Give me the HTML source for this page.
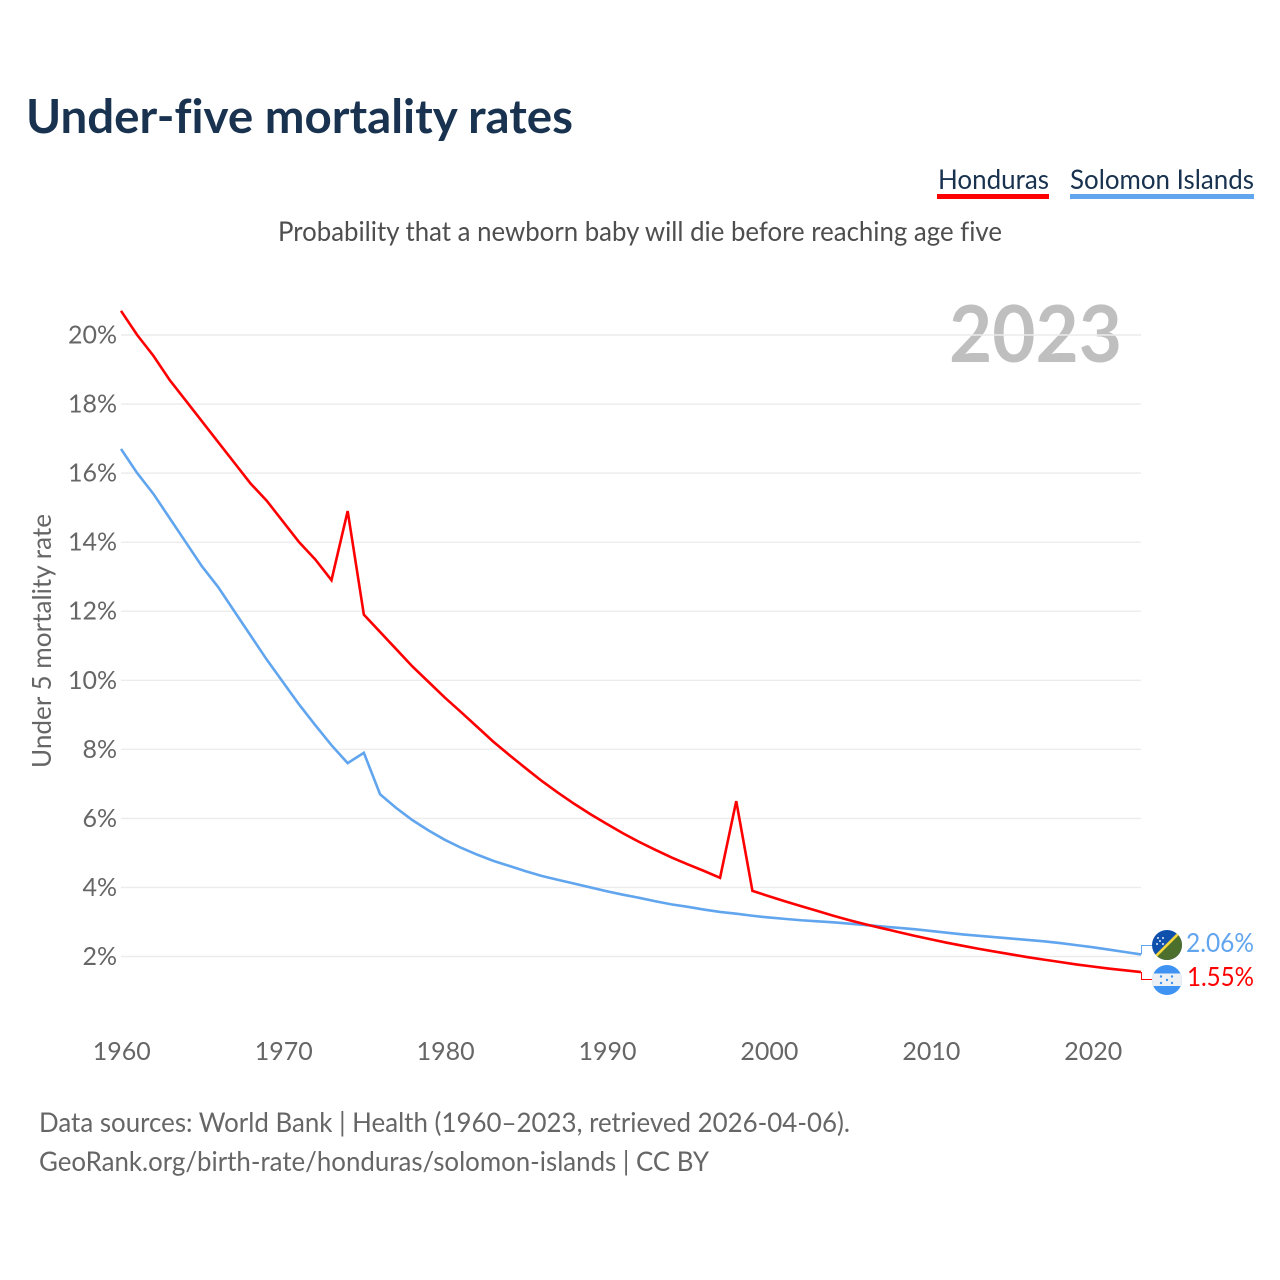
<!DOCTYPE html>
<html><head><meta charset="utf-8"><title>Under-five mortality rates</title>
<style>
html,body{margin:0;padding:0;background:#fff;width:1280px;height:1280px;overflow:hidden}
svg{display:block}
text{font-family:Lato,Carlito,"Liberation Sans",sans-serif;font-variant-ligatures:none}
</style></head>
<body>
<svg id="chart" xmlns="http://www.w3.org/2000/svg" width="1280" height="1280" viewBox="0 0 1280 1280">
<text x="26" y="133" font-size="47" font-weight="700" fill="#18324f" textLength="547" lengthAdjust="spacingAndGlyphs">Under-five mortality rates</text>
<g>
<text x="938" y="189" font-size="27" fill="#18324f" textLength="111" lengthAdjust="spacingAndGlyphs">Honduras</text>
<rect x="937" y="194" width="112" height="5" fill="#ff0000"/>
</g>
<g>
<text x="1070" y="189" font-size="27" fill="#18324f" textLength="184" lengthAdjust="spacingAndGlyphs">Solomon Islands</text>
<rect x="1070" y="194" width="184" height="5" fill="#60a5ee"/>
</g>
<text x="278" y="241" font-size="27.5" fill="#4e4e4e" textLength="724" lengthAdjust="spacingAndGlyphs">Probability that a newborn baby will die before reaching age five</text>
<text x="1122" y="362" font-size="79" font-weight="700" fill="#bfbfbf" text-anchor="end" textLength="173" lengthAdjust="spacingAndGlyphs">2023</text>
<text transform="translate(51,768) rotate(-90)" font-size="26" fill="#666" textLength="254" lengthAdjust="spacingAndGlyphs">Under 5 mortality rate</text>
<g id="grid"></g>
<g id="yticks"></g>
<g id="xticks"></g>
<g id="series"></g>
<g id="connectors"></g>
<defs>
<clipPath id="flag-clip-sb"><circle cx="1167" cy="945" r="15"/></clipPath>
<clipPath id="flag-clip-hn"><circle cx="1167" cy="980" r="15"/></clipPath>
</defs>
<g clip-path="url(#flag-clip-sb)">
<rect x="1150" y="928" width="34" height="34" fill="#0f50ad"/>
<polygon points="1184,928 1184,962 1150,962" fill="#4d6f2d"/>
<line x1="1184" y1="928" x2="1150" y2="962" stroke="#f5d63d" stroke-width="2.6"/>
<circle cx="1158" cy="938" r="1" fill="#dfe9f7"/><circle cx="1163" cy="938" r="1" fill="#dfe9f7"/><circle cx="1160" cy="941" r="1" fill="#dfe9f7"/><circle cx="1157" cy="944" r="1" fill="#dfe9f7"/><circle cx="1163" cy="944" r="1" fill="#dfe9f7"/>
</g>
<g clip-path="url(#flag-clip-hn)">
<rect x="1150" y="963" width="34" height="34" fill="#3f93f3"/>
<rect x="1150" y="973.5" width="34" height="12.5" fill="#eef1f4"/>
<circle cx="1161" cy="976.5" r="1.2" fill="#3f93f3"/><circle cx="1172" cy="976.5" r="1.2" fill="#3f93f3"/><circle cx="1167" cy="980" r="1.2" fill="#3f93f3"/><circle cx="1161" cy="983" r="1.2" fill="#3f93f3"/><circle cx="1172" cy="983" r="1.2" fill="#3f93f3"/>
</g>
<text x="1254" y="952" font-size="26.5" fill="#60a5ee" text-anchor="end" textLength="68" lengthAdjust="spacingAndGlyphs">2.06%</text>
<text x="1254" y="986" font-size="26.5" fill="#ff0000" text-anchor="end" textLength="67" lengthAdjust="spacingAndGlyphs">1.55%</text>
<text x="39" y="1132" font-size="27" fill="#666" textLength="811" lengthAdjust="spacingAndGlyphs">Data sources: World Bank | Health (1960–2023, retrieved 2026-04-06).</text>
<text x="39" y="1171" font-size="27" fill="#666" textLength="670" lengthAdjust="spacingAndGlyphs">GeoRank.org/birth-rate/honduras/solomon-islands | CC BY</text>
</svg>
<script>
const startYear = 1960;
const yTickValues = [2, 4, 6, 8, 10, 12, 14, 16, 18, 20];
const xTickYears = [1960, 1970, 1980, 1990, 2000, 2010, 2020];
const honduras = [20.7,20.0,19.4,18.7,18.1,17.5,16.9,16.3,15.7,15.2,14.6,14.0,13.5,12.9,14.9,11.9,11.4,10.9,10.4,9.95,9.5,9.08,8.65,8.22,7.83,7.45,7.08,6.74,6.42,6.12,5.84,5.57,5.32,5.09,4.87,4.67,4.48,4.28,6.5,3.9,3.75,3.6,3.46,3.32,3.18,3.05,2.93,2.82,2.71,2.6,2.5,2.4,2.31,2.22,2.14,2.06,1.98,1.91,1.84,1.77,1.71,1.65,1.6,1.55];
const solomonIslands = [16.7,16.0,15.4,14.7,14.0,13.3,12.7,12.0,11.3,10.6,9.95,9.3,8.7,8.12,7.6,7.9,6.7,6.3,5.95,5.65,5.38,5.15,4.95,4.77,4.62,4.47,4.33,4.22,4.11,4.0,3.89,3.79,3.7,3.6,3.51,3.44,3.36,3.29,3.24,3.18,3.13,3.09,3.05,3.02,2.99,2.95,2.91,2.87,2.83,2.79,2.74,2.69,2.64,2.6,2.56,2.52,2.48,2.44,2.39,2.33,2.27,2.2,2.13,2.06];

const NS = 'http://www.w3.org/2000/svg';
function xScale(year) { return 121 + (year - 1960) * (1141 - 121) / 63; }
function yScale(v) { return 956.5 - (v - 2) * (956.5 - 335) / 18; }
function make(tag, attrs, parent) {
  const el = document.createElementNS(NS, tag);
  for (const k in attrs) el.setAttribute(k, attrs[k]);
  parent.appendChild(el);
  return el;
}
const grid = document.getElementById('grid');
const yticks = document.getElementById('yticks');
const xticks = document.getElementById('xticks');
const seriesLayer = document.getElementById('series');
const connectors = document.getElementById('connectors');

yTickValues.forEach(function (v) {
  const line = make('line', {x1: 121, x2: 1141, y1: yScale(v), y2: yScale(v), stroke: '#ececec', 'stroke-width': 1.4}, grid);
  
  
  const t = make('text', {x: 117, y: yScale(v) + 8.5, 'font-size': 25, fill: '#666', 'text-anchor': 'end'}, yticks);
  
  
  t.textContent = v + '%';
});
xTickYears.forEach(function (y) {
  const t = make('text', {x: xScale(y) + 0.8, y: 1060, 'font-size': 25, fill: '#666', 'text-anchor': 'middle'}, xticks);
  
  
  t.textContent = y;
});
function toPoints(values) {
  return values.map(function (v, i) { return xScale(startYear + i).toFixed(2) + ',' + yScale(v).toFixed(2); }).join(' ');
}
const lineSolomon = make('polyline', {points: toPoints(solomonIslands), fill: 'none', stroke: '#60a5ee', 'stroke-width': 2.6, 'stroke-linejoin': 'miter'}, seriesLayer);


const lineHonduras = make('polyline', {points: toPoints(honduras), fill: 'none', stroke: '#ff0000', 'stroke-width': 2.6, 'stroke-linejoin': 'miter'}, seriesLayer);



const lastX = xScale(startYear + honduras.length - 1) + 0.5;
const connSolomon = make('polyline', {points: lastX + ',' + yScale(solomonIslands[solomonIslands.length - 1]) + ' ' + lastX + ',945.5 1152,945.5', fill: 'none', stroke: '#60a5ee', 'stroke-width': 1}, connectors);


const connHonduras = make('polyline', {points: lastX + ',' + yScale(honduras[honduras.length - 1]) + ' ' + lastX + ',979.5 1152,979.5', fill: 'none', stroke: '#ff0000', 'stroke-width': 1}, connectors);


</script>
</body></html>
